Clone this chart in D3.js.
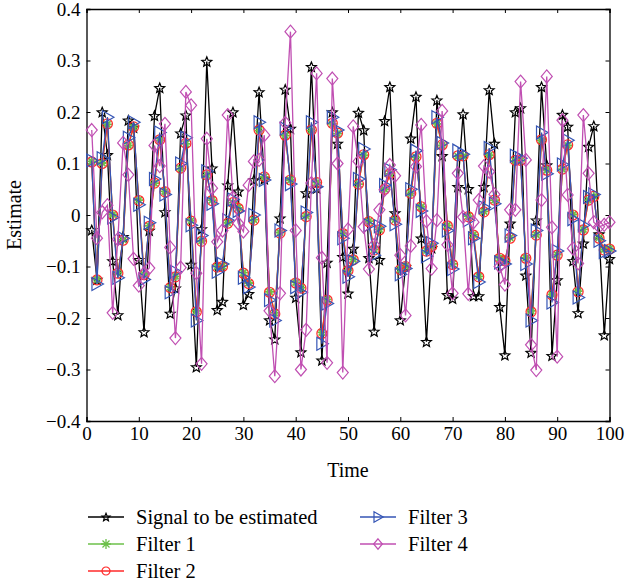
<!DOCTYPE html>
<html>
<head>
<meta charset="utf-8">
<script src="https://cdn.jsdelivr.net/npm/d3@7"></script>
<style>
  body { margin: 0; background: #fff; }
  svg text { font-family: "Liberation Serif", "Times New Roman", serif; fill: #000; }
</style>
</head>
<body>
<svg id="chart" width="625" height="586"></svg>
<script>
// time steps 1..100
var timeSteps = d3.range(1, 101);

var signalValues = [
  -0.029, -0.125, 0.200, 0.117, -0.089, -0.194, -0.042, 0.184, 0.170, -0.087,
  -0.227, -0.030, 0.193, 0.247, 0.006, -0.191, -0.142, 0.159, 0.194, -0.096,
  -0.295, -0.027, 0.298, 0.091, -0.184, -0.168, 0.058, 0.200, 0.046, -0.174,
  -0.153, 0.068, 0.239, 0.070, -0.204, -0.241, -0.006, 0.244, 0.168, -0.160,
  -0.266, 0.043, 0.288, 0.052, -0.282, -0.092, 0.200, 0.139, -0.081, -0.152,
  -0.065, 0.199, 0.165, -0.083, -0.226, -0.087, 0.183, 0.249, 0.004, -0.204,
  -0.100, 0.149, 0.230, -0.045, -0.246, -0.064, 0.223, 0.115, -0.155, -0.162,
  0.055, 0.196, 0.051, -0.157, -0.157, 0.055, 0.243, 0.139, -0.178, -0.272,
  -0.016, 0.200, 0.208, -0.117, -0.267, -0.010, 0.249, 0.097, -0.273, -0.126,
  0.195, 0.172, -0.089, -0.190, -0.055, 0.133, 0.173, -0.037, -0.233, -0.085
];

var filter1Values = [
  0.104, -0.125, 0.101, 0.176, 0.001, -0.112, -0.048, 0.135, 0.170, 0.029,
  -0.115, -0.021, 0.062, 0.145, 0.046, -0.140, -0.119, 0.090, 0.138, -0.011,
  -0.186, -0.050, 0.078, 0.029, -0.100, -0.099, -0.015, 0.024, 0.014, -0.112,
  -0.132, -0.009, 0.164, 0.074, -0.149, -0.190, -0.034, 0.154, 0.068, -0.131,
  -0.141, -0.002, 0.164, 0.063, -0.228, -0.164, 0.177, 0.158, -0.035, -0.107,
  -0.086, 0.060, 0.116, -0.012, -0.067, -0.028, 0.050, 0.080, -0.009, -0.105,
  -0.099, 0.042, 0.112, 0.016, -0.069, -0.060, 0.177, 0.135, -0.020, -0.095,
  0.114, 0.114, -0.002, -0.038, -0.119, 0.007, 0.116, 0.029, -0.083, -0.088,
  -0.044, 0.105, 0.105, -0.083, -0.186, -0.038, 0.145, 0.087, -0.154, -0.077,
  0.089, 0.135, 0.001, -0.148, -0.028, 0.029, 0.036, -0.044, -0.067, -0.065
];

var filter2Values = [
  0.103, -0.126, 0.100, 0.177, 0.000, -0.113, -0.049, 0.136, 0.171, 0.028,
  -0.116, -0.022, 0.062, 0.146, 0.045, -0.141, -0.120, 0.091, 0.139, -0.012,
  -0.188, -0.051, 0.078, 0.028, -0.101, -0.100, -0.016, 0.024, 0.013, -0.113,
  -0.133, -0.010, 0.165, 0.074, -0.150, -0.192, -0.035, 0.155, 0.068, -0.132,
  -0.142, -0.003, 0.165, 0.063, -0.230, -0.165, 0.178, 0.159, -0.036, -0.108,
  -0.087, 0.060, 0.117, -0.013, -0.068, -0.029, 0.050, 0.080, -0.010, -0.106,
  -0.100, 0.042, 0.113, 0.016, -0.070, -0.061, 0.178, 0.136, -0.021, -0.096,
  0.115, 0.115, -0.003, -0.039, -0.120, 0.006, 0.117, 0.029, -0.084, -0.089,
  -0.045, 0.106, 0.106, -0.084, -0.188, -0.039, 0.146, 0.087, -0.155, -0.078,
  0.089, 0.136, 0.000, -0.149, -0.029, 0.029, 0.036, -0.045, -0.068, -0.066
];

var filter3Values = [
  0.106, -0.134, 0.110, 0.190, -0.005, -0.122, -0.045, 0.150, 0.180, 0.020,
  -0.125, -0.015, 0.070, 0.160, 0.040, -0.150, -0.110, 0.100, 0.150, -0.020,
  -0.205, -0.040, 0.085, 0.022, -0.110, -0.095, -0.010, 0.030, 0.008, -0.122,
  -0.140, 0.000, 0.180, 0.068, -0.165, -0.205, -0.030, 0.168, 0.060, -0.140,
  -0.150, 0.005, 0.180, 0.055, -0.250, -0.172, 0.190, 0.165, -0.045, -0.120,
  -0.090, 0.070, 0.128, -0.020, -0.078, -0.022, 0.058, 0.088, -0.018, -0.115,
  -0.104, 0.050, 0.125, 0.008, -0.080, -0.055, 0.190, 0.140, -0.030, -0.105,
  0.125, 0.118, -0.010, -0.045, -0.130, 0.015, 0.130, 0.022, -0.092, -0.095,
  -0.040, 0.115, 0.110, -0.095, -0.205, -0.030, 0.160, 0.080, -0.170, -0.070,
  0.098, 0.145, -0.008, -0.160, -0.020, 0.035, 0.040, -0.050, -0.072, -0.070
];

var filter4Values = [
  0.165, -0.045, 0.005, 0.019, -0.190, -0.047, 0.140, 0.078, -0.085, -0.137,
  -0.113, -0.103, 0.135, 0.095, 0.177, -0.063, -0.239, -0.102, 0.239, 0.213,
  -0.113, -0.289, 0.148, 0.052, -0.052, -0.030, 0.194, 0.034, -0.016, -0.032,
  0.058, 0.104, 0.107, 0.155, -0.186, -0.313, -0.152, 0.179, 0.356, -0.030,
  -0.300, -0.223, 0.062, 0.275, -0.083, -0.287, 0.265, 0.100, -0.306, -0.028,
  0.172, 0.104, -0.023, -0.105, -0.058, 0.010, 0.049, 0.097, 0.076, -0.078,
  -0.195, -0.060, 0.094, 0.175, -0.012, -0.104, -0.010, 0.202, -0.058, -0.152,
  0.081, -0.004, -0.153, -0.014, 0.029, 0.095, 0.084, 0.040, -0.100, -0.135,
  0.010, 0.010, 0.259, 0.107, -0.252, -0.301, 0.029, 0.269, -0.024, -0.275,
  0.184, 0.039, -0.065, -0.094, 0.194, 0.081, -0.014, -0.023, -0.019, -0.014
];

var seriesNames = ["Signal to be estimated", "Filter 1", "Filter 2", "Filter 3", "Filter 4"];
var seriesColors = ["#000000", "#6cc04a", "#ff2a2a", "#3555b5", "#c04fb2"];
var seriesMarkers = ["star", "asterisk", "circle", "triangle", "diamond"];
var seriesData = [signalValues, filter1Values, filter2Values, filter3Values, filter4Values];

var xTicks = [0, 10, 20, 30, 40, 50, 60, 70, 80, 90, 100];
var yTicks = [-0.4, -0.3, -0.2, -0.1, 0, 0.1, 0.2, 0.3, 0.4];

function markerPath(type, scale) {
    scale = scale || 1;
    var s = scale;
    if (type == "star") {
        var pts = [];
        for (var k = 0; k < 10; k++) {
            var r = ((k % 2 == 0) ? 5.2 : 2.3) * s;
            var a = -Math.PI / 2 + k * Math.PI / 5;
            pts.push([r * Math.cos(a), r * Math.sin(a) + 0.5 * s]);
        }
        return "M" + pts.map(p => p[0].toFixed(2) + "," + p[1].toFixed(2)).join("L") + "Z";
    }
    if (type == "asterisk") {
        return "M" + (-4.5 * s) + ",0L" + (4.5 * s) + ",0M0," + (-4.5 * s) + "L0," + (4.5 * s) +
            "M" + (-3.2 * s) + "," + (-3.2 * s) + "L" + (3.2 * s) + "," + (3.2 * s) +
            "M" + (-3.2 * s) + "," + (3.2 * s) + "L" + (3.2 * s) + "," + (-3.2 * s);
    }
    if (type == "circle") {
        var rc = 5 * s;
        return "M" + rc + ",0A" + rc + "," + rc + " 0 1,1 " + (-rc) + ",0A" + rc + "," + rc + " 0 1,1 " + rc + ",0Z";
    }
    if (type == "triangle") {
        return "M" + (-5 * s) + "," + (-6.5 * s) + "L" + (6.5 * s) + ",0L" + (-5 * s) + "," + (6.5 * s) + "Z";
    }
    if (type == "diamond") {
        return "M0," + (-6.5 * s) + "L" + (5.5 * s) + ",0L0," + (6.5 * s) + "L" + (-5.5 * s) + ",0Z";
    }
}

function build_chart() {
    var svg = d3.select("#chart");
    const margins = {top: 9, left: 86.5};
    const plotRight = 609.5;
    const plotBottom = 421;

    var x = d3.scaleLinear().domain([0, 100]).range([margins.left, plotRight]);
    var y = d3.scaleLinear().domain([-0.4, 0.4]).range([plotBottom, margins.top]);

    var yFormat = d => d === 0 ? "0" : d3.format(".1f")(d);

    // axes (ticks pointing inwards)
    svg.append("g")
        .attr("class", "axis")
        .attr("transform", "translate(0," + plotBottom + ")")
        .call(d3.axisBottom(x).tickValues(xTicks).tickSize(-4).tickPadding(6).tickFormat(d3.format("d")));
    svg.append("g")
        .attr("class", "axis")
        .attr("transform", "translate(0," + margins.top + ")")
        .call(d3.axisTop(x).tickValues(xTicks).tickSize(-4).tickFormat(""));
    svg.append("g")
        .attr("class", "axis")
        .attr("transform", "translate(" + margins.left + ",0)")
        .call(d3.axisLeft(y).tickValues(yTicks).tickSize(-4).tickPadding(6).tickFormat(yFormat));
    svg.append("g")
        .attr("class", "axis")
        .attr("transform", "translate(" + plotRight + ",0)")
        .call(d3.axisRight(y).tickValues(yTicks).tickSize(-4).tickFormat(""));

    svg.selectAll(".axis path.domain").attr("stroke", "#000").attr("stroke-width", 1.3);
    svg.selectAll(".axis line").attr("stroke", "#000").attr("stroke-width", 1);
    svg.selectAll(".axis text")
        .style("font-family", "'Liberation Serif', serif")
        .attr("font-size", 19)
        .attr("fill", "#000");

    // axis titles
    svg.append("text")
        .attr("x", 348)
        .attr("y", 477)
        .attr("text-anchor", "middle")
        .attr("font-size", 20)
        .text("Time");
    svg.append("text")
        .attr("transform", "translate(21,215) rotate(-90)")
        .attr("text-anchor", "middle")
        .attr("font-size", 20)
        .text("Estimate");

    // series lines and markers
    var line = d3.line()
        .x((d, i) => x(timeSteps[i]))
        .y(d => y(d));

    var group_series = svg.append("g").attr("class", "series");
    seriesData.forEach(function(values, s) {
        var g = group_series.append("g");
        g.append("path")
            .attr("fill", "none")
            .attr("stroke", seriesColors[s])
            .attr("stroke-width", 1.3)
            .attr("d", line(values));
        g.selectAll("path.marker")
            .data(values).enter()
            .append("path").attr("class", "marker")
            .attr("transform", (d, i) => "translate(" + x(timeSteps[i]) + "," + y(d) + ")")
            .attr("d", markerPath(seriesMarkers[s]))
            .attr("fill", "none")
            .attr("stroke", seriesColors[s])
            .attr("stroke-width", seriesMarkers[s] == "asterisk" ? 1.8 : 1.2);
    });

    // legend
    var legendPos = [
        {x: 88, y: 517}, {x: 88, y: 544}, {x: 88, y: 571},
        {x: 360, y: 517}, {x: 360, y: 544}
    ];
    var group_legend = svg.append("g").attr("class", "legend");
    var item = group_legend.selectAll("g.item")
        .data(seriesNames).enter()
        .append("g").classed("item", true)
        .attr("transform", (d, i) => "translate(" + legendPos[i].x + "," + legendPos[i].y + ")");
    item.append("line")
        .attr("x1", 0).attr("x2", 36)
        .attr("stroke", (d, i) => seriesColors[i])
        .attr("stroke-width", 1.3);
    item.append("path")
        .attr("transform", "translate(18,0)")
        .attr("d", (d, i) => markerPath(seriesMarkers[i], seriesMarkers[i] == "asterisk" ? 1.1 : 0.8))
        .attr("fill", "none")
        .attr("stroke", (d, i) => seriesColors[i])
        .attr("stroke-width", (d, i) => seriesMarkers[i] == "asterisk" ? 1.3 : 1.2);
    item.append("text")
        .attr("x", 48)
        .attr("y", 0)
        .attr("dy", "0.32em")
        .attr("font-size", 20.5)
        .text(d => d);
}

build_chart();
</script>
</body>
</html>
